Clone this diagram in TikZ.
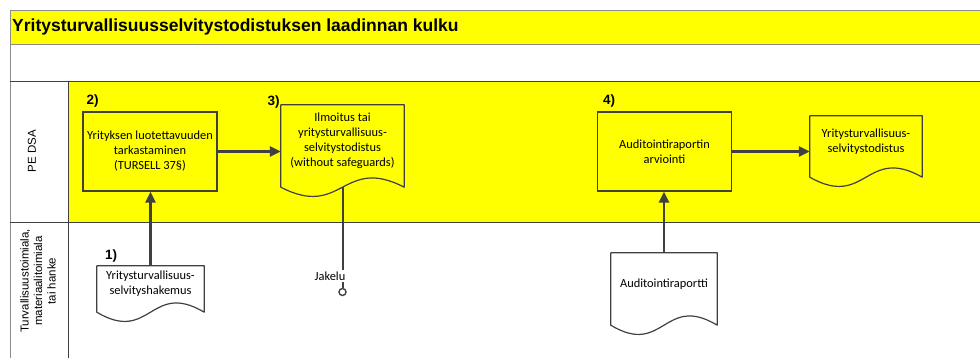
\documentclass[tikz,border=0pt]{standalone}
\usepackage{fontspec}
\setmainfont{Carlito}
\newfontfamily\headfont{Liberation Sans}
\usetikzlibrary{arrows.meta,calc,positioning}
\definecolor{laneyellow}{RGB}{255,255,0}
\definecolor{shapeline}{RGB}{64,64,64}
\definecolor{frameline}{RGB}{140,140,140}

\tikzset{
	stepbox/.style = {draw = shapeline, line width = 1.2pt, fill = laneyellow,
		minimum width = 134pt, minimum height = 79pt, align = center,
		font = \fontsize{12.4}{15}\selectfont, inner sep = 1pt},
	docbox/.style = {align = center, font = \fontsize{12.4}{15}\selectfont, inner sep = 1pt},
	docline/.style = {draw = shapeline, line width = 1.2pt, line join = round},
	flow/.style = {draw = shapeline, line width = 2.6pt, -{Triangle[length = 11pt, width = 10pt]}},
	stepno/.style = {font = \headfont\bfseries\fontsize{13.5}{14}\selectfont, inner sep = 1pt},
	lanetext/.style = {font = \headfont\fontsize{11.5}{13.5}\selectfont, rotate = 90, align = center}
}

% document outline with a wavy bottom
\newcommand{\docwave}[1]{%
	\draw[docline] (#1.north west) -- ([yshift = -10pt]#1.south west)
		.. controls ([yshift = -42pt]#1.south) and ([yshift = 22pt]#1.south) ..
		([yshift = -10pt]#1.south east) -- (#1.north east) -- cycle;}

\begin{document}
\begin{tikzpicture}[x = 1pt, y = {(0pt, -1pt)}]
	\useasboundingbox (0, 0) rectangle (980, 358);
	% lanes
	\fill[laneyellow] (10, 10) rectangle (980, 44);
	\fill[laneyellow] (68, 81) rectangle (980, 222);
	\draw[frameline] (980, 10) -- (10, 10) -- (10, 358);
	\draw[frameline] (10, 44) -- (980, 44);
	\draw[shapeline, line width = 0.8pt] (10, 81) -- (980, 81);
	\draw[shapeline, line width = 0.8pt] (10, 222) -- (980, 222);
	\draw[shapeline, line width = 0.6pt] (68, 81) -- (68, 358);
	\node[anchor = west, inner sep = 0, font = \headfont\bfseries\fontsize{17.5}{20}\selectfont] (title) at (12, 27) {Yritysturvallisuusselvitystodistuksen laadinnan kulku};
	\node[lanetext] (pedsa) at (32, 151) {PE DSA};
	\node[lanetext] (turva) at (38, 281) {Turvallisuustoimiala,\\materiaalitoimiala\\tai hanke};

	% steps
	\node[stepbox] (box2) at (150, 151.5) {Yrityksen luotettavuuden\\tarkastaminen\\(TURSELL 37§)};
	\node[stepbox] (box4) at (664.5, 151.5) {Auditointiraportin\\arviointi};
	\node[docbox, minimum width = 123pt, minimum height = 72pt] (doc3) at (342.5, 141) {Ilmoitus tai\\yritysturvallisuus-\\selvitystodistus\\(without safeguards)};
	\node[docbox, minimum width = 112pt, minimum height = 51pt] (doc5) at (866, 141.5) {Yritysturvallisuus-\\selvitystodistus};
	\node[docbox, minimum width = 107pt, minimum height = 36pt] (doc1) at (150.5, 284) {Yritysturvallisuus-\\selvityshakemus};
	\node[docbox, minimum width = 106pt, minimum height = 62pt] (audit) at (664, 284) {Auditointiraportti};
	\docwave{doc3}
	\docwave{doc5}
	\docwave{doc1}
	\docwave{audit}

	\node[stepno, anchor = south west] (no1) at ([xshift = 7pt, yshift = 2pt]doc1.north west) {1)};
	\node[stepno, anchor = south west] (no2) at ([xshift = 3pt, yshift = 3pt]box2.north west) {2)};
	\node[stepno, anchor = south east] (no3) at ([yshift = -5pt]doc3.north west) {3)};
	\node[stepno, anchor = south west] (no4) at ([xshift = 5pt, yshift = 3pt]box4.north west) {4)};

	% flow
	\draw[flow] (box2.east) -- (box2.east -| doc3.west);
	\draw[flow] (box4.east) -- (box4.east -| doc5.west);
	\draw[flow] (doc1.north) -- (doc1.north |- box2.south);
	\draw[flow] (audit.north) -- (audit.north |- box4.south);

	% distribution
	\node[circle, draw = shapeline, line width = 1.4pt, minimum size = 7pt, inner sep = 0] (jakelu) at (342.5, 292) {};
	\draw[shapeline, line width = 2pt] ([yshift = -10pt]doc3.south) -- (jakelu.north);
	\node[docbox, fill = white, inner sep = 1.5pt] (jakelutext) at (330, 276) {Jakelu};
\end{tikzpicture}
\end{document}
